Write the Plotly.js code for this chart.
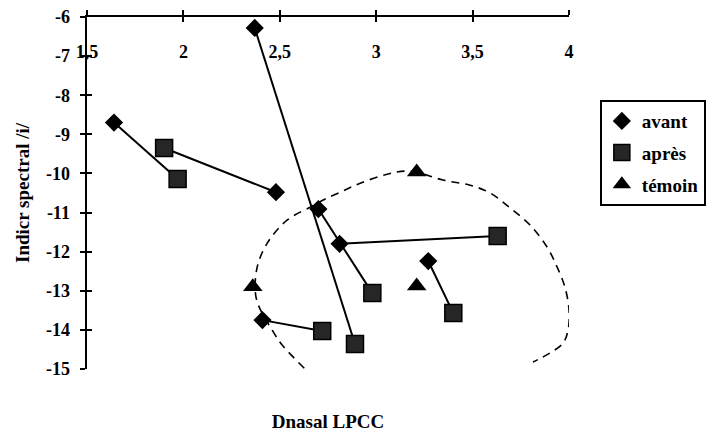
<!DOCTYPE html>
<html>
<head>
<meta charset="utf-8">
<script src="https://cdn.plot.ly/plotly-3.0.1.min.js"></script>
<style>html,body{margin:0;padding:0;background:#fff;}#chart{width:712px;height:432px;}</style>
</head>
<body>
<div id="chart"></div>
<script>
// Data
const avantX = [1.64, 2.48, 2.37, 2.70, 2.81, 3.27, 2.41];
const avantY = [-8.70, -10.48, -6.28, -10.91, -11.80, -12.24, -13.75];
const apresX = [1.97, 1.90, 2.89, 2.98, 3.63, 3.40, 2.72];
const apresY = [-10.14, -9.35, -14.36, -13.06, -11.60, -13.57, -14.03];
const temoinX = [3.21, 2.36, 3.21];
const temoinY = [-9.96, -12.90, -12.88];
// dashed enclosing curve (hand-drawn region in the figure)
const curveX = [2.627, 2.513, 2.461, 2.389, 2.373, 2.383, 2.435, 2.539, 2.658, 2.725, 2.813, 2.917, 3.057, 3.176, 3.347, 3.487, 3.591, 3.694, 3.798, 3.886, 3.938, 3.979, 4.0, 3.995, 3.969, 3.902, 3.813];
const curveY = [-14.98, -14.39, -14.01, -13.37, -13.03, -12.39, -11.78, -11.19, -10.86, -10.68, -10.48, -10.25, -10.02, -9.94, -10.17, -10.30, -10.50, -10.88, -11.32, -11.88, -12.39, -12.91, -13.49, -14.01, -14.34, -14.59, -14.82];
const xTickVals = [1.5, 2, 2.5, 3, 3.5, 4];
const xTickText = ['1,5', '2', '2,5', '3', '3,5', '4'];
const yTickVals = [-15, -14, -13, -12, -11, -10, -9, -8, -7, -6];
const yTickText = ['-15', '-14', '-13', '-12', '-11', '-10', '-9', '-8', '-7', '-6'];

// connecting segments avant[i] -> apres[i]
const segX = [], segY = [];
for (let i = 0; i < avantX.length; i++) {
  segX.push(avantX[i], apresX[i], null);
  segY.push(avantY[i], apresY[i], null);
}
const bold = t => '<b>' + t + '</b>';

const FONT = '"Liberation Serif", "Times New Roman", serif';
const xr = [1.5, 4], yr = [-15, -6];

const traces = [
  {x: curveX, y: curveY, mode: 'lines', line: {color: '#000', width: 1.6, dash: '8px,6px', shape: 'spline'}, showlegend: false, hoverinfo: 'skip'},
  {x: segX, y: segY, mode: 'lines', line: {color: '#000', width: 2}, showlegend: false, hoverinfo: 'skip', connectgaps: false},
  {x: avantX, y: avantY, mode: 'markers', name: bold('avant'), legendgroup: 'a', marker: {symbol: 'diamond', size: 14, color: '#000'}, cliponaxis: false},
  {x: apresX, y: apresY, mode: 'markers', name: bold('après'), legendgroup: 'b', marker: {symbol: 'square', size: 17, color: '#262626', line: {color: '#000', width: 1.5}}, cliponaxis: false},
  {x: temoinX, y: temoinY, mode: 'markers', name: bold('témoin'), legendgroup: 'c', marker: {symbol: 'triangle-up', size: 17, color: '#000'}, cliponaxis: false},
  {x: [], y: [], xaxis: 'x2', yaxis: 'y', showlegend: false, hoverinfo: 'skip'},
  {x: [], y: [], xaxis: 'x3', yaxis: 'y', showlegend: false, hoverinfo: 'skip'},
  {x: [], y: [], xaxis: 'x4', yaxis: 'y', showlegend: false, hoverinfo: 'skip'},
  {x: [], y: [], xaxis: 'x', yaxis: 'y2', showlegend: false, hoverinfo: 'skip'}
];

const tickFont = {family: FONT, size: 18, color: '#000'};

const layout = {
  width: 712, height: 432,
  margin: {l: 87, r: 143, t: 17, b: 63, autoexpand: false},
  paper_bgcolor: '#fff', plot_bgcolor: '#fff',
  showlegend: true,
  font: {family: FONT, color: '#000'},
  xaxis: {range: xr, showline: false, ticks: '', showticklabels: false, showgrid: false, zeroline: false,
          title: {text: bold('Dnasal LPCC'), font: {family: FONT, size: 19, color: '#000'}, standoff: 45}, automargin: false},
  xaxis2: {range: xr, overlaying: 'x', anchor: 'y', side: 'top', showline: true, linewidth: 2.5, linecolor: '#000',
           ticks: 'outside', ticklen: 5, tickwidth: 2, tickcolor: '#000', tickvals: xTickVals, showticklabels: false, showgrid: false, zeroline: false},
  xaxis3: {range: xr, overlaying: 'x', anchor: 'y', side: 'top', showline: false,
           ticks: 'inside', ticklen: 5, tickwidth: 2, tickcolor: '#000', tickvals: xTickVals, showticklabels: false, showgrid: false, zeroline: false},
  xaxis4: {range: xr, overlaying: 'x', anchor: 'free', position: 0.937, side: 'bottom', showline: false, ticks: '',
           tickvals: xTickVals, ticktext: xTickText.map(bold), tickfont: tickFont, showgrid: false, zeroline: false},
  yaxis: {range: yr, showline: true, linewidth: 2.5, linecolor: '#000', ticks: 'outside', ticklen: 5, tickwidth: 2, tickcolor: '#000',
          tickvals: yTickVals, ticktext: yTickText.map(bold), tickfont: tickFont, ticklabelstandoff: 6, showgrid: false, zeroline: false,
          title: {text: bold('Indicr spectral /i/'), font: {family: FONT, size: 19, color: '#000'}, standoff: 12}, automargin: false},
  yaxis2: {range: yr, overlaying: 'y', anchor: 'x', side: 'left', showline: false, ticks: 'inside', ticklen: 5, tickwidth: 2, tickcolor: '#000',
           tickvals: yTickVals, showticklabels: false, showgrid: false, zeroline: false},
  legend: {x: 1.064, y: 0.764, xanchor: 'left', yanchor: 'top', bgcolor: '#fff', bordercolor: '#000', borderwidth: 2,
           font: {family: FONT, size: 19, color: '#000'}, itemwidth: 30, tracegroupgap: 4}
};

Plotly.newPlot('chart', traces, layout, {displayModeBar: false, staticPlot: true});
</script>
</body>
</html>
